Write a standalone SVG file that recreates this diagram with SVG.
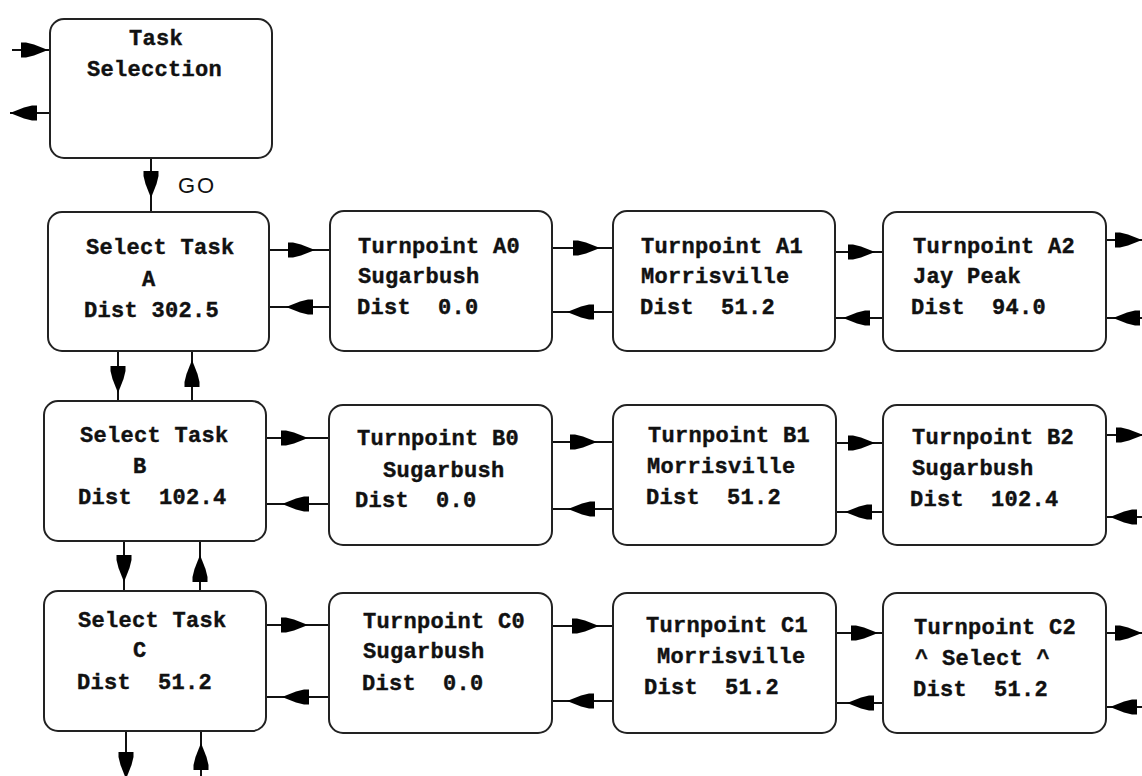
<svg xmlns="http://www.w3.org/2000/svg" xmlns:xlink="http://www.w3.org/1999/xlink" width="1142" height="776" viewBox="0 0 1142 776">
<style>
.box{fill:#fff;stroke:#222;stroke-width:2}
.t{font-family:"Liberation Mono",monospace;font-weight:bold;font-size:22px;letter-spacing:0.3px;fill:#111;stroke:#111;stroke-width:0.4}
.go{font-family:"Liberation Sans",Arial,sans-serif;font-size:22px;letter-spacing:2px;fill:#111}
.ln{stroke:#111;stroke-width:2;fill:none}
.ah{fill:#000}
</style>
<defs>
<path id="ah" class="ah" d="M0,0 L-14,-5.5 L-22,-7.5 L-27,-7.5 L-27,7.5 L-22,7.5 L-14,5.5 Z"/>
</defs>
<rect width="1142" height="776" fill="#fff"/>
<g id="connectors">
<line class="ln" x1="12" y1="50" x2="50" y2="50"/><use href="#ah" transform="translate(48,50)"/>
<line class="ln" x1="10" y1="113" x2="50" y2="113"/><use href="#ah" transform="translate(10,113) rotate(180)"/>
<line class="ln" x1="151" y1="158" x2="151" y2="212"/><use href="#ah" transform="translate(151,198) rotate(90)"/>
<line class="ln" x1="118" y1="351" x2="118" y2="401"/><use href="#ah" transform="translate(118,393) rotate(90)"/>
<line class="ln" x1="192" y1="351" x2="192" y2="401"/><use href="#ah" transform="translate(192,360) rotate(-90)"/>
<line class="ln" x1="124" y1="541" x2="124" y2="591"/><use href="#ah" transform="translate(124,582) rotate(90)"/>
<line class="ln" x1="200" y1="541" x2="200" y2="591"/><use href="#ah" transform="translate(200,555) rotate(-90)"/>
<line class="ln" x1="126" y1="731" x2="126" y2="776"/><use href="#ah" transform="translate(126,779) rotate(90)"/>
<line class="ln" x1="201" y1="731" x2="201" y2="776"/><use href="#ah" transform="translate(201,743) rotate(-90)"/>
<!-- row A -->
<line class="ln" x1="269" y1="250" x2="330" y2="250"/><use href="#ah" transform="translate(315,250)"/>
<line class="ln" x1="269" y1="307" x2="330" y2="307"/><use href="#ah" transform="translate(286,307) rotate(180)"/>
<line class="ln" x1="552" y1="248" x2="613" y2="248"/><use href="#ah" transform="translate(600,248)"/>
<line class="ln" x1="552" y1="312" x2="613" y2="312"/><use href="#ah" transform="translate(567,312) rotate(180)"/>
<line class="ln" x1="835" y1="252" x2="883" y2="252"/><use href="#ah" transform="translate(875,252)"/>
<line class="ln" x1="835" y1="318" x2="883" y2="318"/><use href="#ah" transform="translate(843,318) rotate(180)"/>
<line class="ln" x1="1106" y1="240" x2="1142" y2="240"/><use href="#ah" transform="translate(1142,240)"/>
<line class="ln" x1="1106" y1="318" x2="1142" y2="318"/><use href="#ah" transform="translate(1113,318) rotate(180)"/>
<!-- row B -->
<line class="ln" x1="266" y1="438" x2="329" y2="438"/><use href="#ah" transform="translate(308,438)"/>
<line class="ln" x1="266" y1="504" x2="329" y2="504"/><use href="#ah" transform="translate(282,504) rotate(180)"/>
<line class="ln" x1="552" y1="442" x2="613" y2="442"/><use href="#ah" transform="translate(597,442)"/>
<line class="ln" x1="552" y1="509" x2="613" y2="509"/><use href="#ah" transform="translate(568,509) rotate(180)"/>
<line class="ln" x1="836" y1="443" x2="883" y2="443"/><use href="#ah" transform="translate(875,443)"/>
<line class="ln" x1="836" y1="512" x2="883" y2="512"/><use href="#ah" transform="translate(845,512) rotate(180)"/>
<line class="ln" x1="1106" y1="435" x2="1142" y2="435"/><use href="#ah" transform="translate(1143,435)"/>
<line class="ln" x1="1106" y1="517" x2="1142" y2="517"/><use href="#ah" transform="translate(1110,517) rotate(180)"/>
<!-- row C -->
<line class="ln" x1="267" y1="625" x2="329" y2="625"/><use href="#ah" transform="translate(308,625)"/>
<line class="ln" x1="266" y1="697" x2="329" y2="697"/><use href="#ah" transform="translate(282,697) rotate(180)"/>
<line class="ln" x1="552" y1="626" x2="613" y2="626"/><use href="#ah" transform="translate(599,626)"/>
<line class="ln" x1="552" y1="701" x2="613" y2="701"/><use href="#ah" transform="translate(567,701) rotate(180)"/>
<line class="ln" x1="836" y1="633" x2="883" y2="633"/><use href="#ah" transform="translate(878,633)"/>
<line class="ln" x1="836" y1="703" x2="883" y2="703"/><use href="#ah" transform="translate(847,703) rotate(180)"/>
<line class="ln" x1="1106" y1="633" x2="1142" y2="633"/><use href="#ah" transform="translate(1142,633)"/>
<line class="ln" x1="1106" y1="707" x2="1142" y2="707"/><use href="#ah" transform="translate(1110,707) rotate(180)"/>
<text class="go" x="178" y="193">GO</text>
</g>
<g id="task-selection">
<rect class="box" x="50" y="19" width="222" height="139" rx="14"/>
<text class="t" x="129" y="45">Task</text>
<text class="t" x="87" y="76">Selecction</text>
</g>
<g id="select-a">
<rect class="box" x="48" y="212" width="221" height="139" rx="14"/>
<text class="t" x="86" y="254">Select Task</text>
<text class="t" x="142" y="286">A</text>
<text class="t" x="84" y="317">Dist 302.5</text>
</g>
<g id="select-b">
<rect class="box" x="44" y="401" width="222" height="140" rx="14"/>
<text class="t" x="80" y="442">Select Task</text>
<text class="t" x="133" y="473">B</text>
<text class="t" x="78" y="504" xml:space="preserve">Dist  102.4</text>
</g>
<g id="select-c">
<rect class="box" x="44" y="591" width="222" height="140" rx="14"/>
<text class="t" x="78" y="627">Select Task</text>
<text class="t" x="133" y="657">C</text>
<text class="t" x="77" y="689" xml:space="preserve">Dist  51.2</text>
</g>
<g id="tp-a0">
<rect class="box" x="330" y="211" width="222" height="140" rx="14"/>
<text class="t" x="358" y="253">Turnpoint A0</text>
<text class="t" x="358" y="283">Sugarbush</text>
<text class="t" x="357" y="314" xml:space="preserve">Dist  0.0</text>
</g>
<g id="tp-a1">
<rect class="box" x="613" y="211" width="222" height="140" rx="14"/>
<text class="t" x="641" y="253">Turnpoint A1</text>
<text class="t" x="641" y="283">Morrisville</text>
<text class="t" x="640" y="314" xml:space="preserve">Dist  51.2</text>
</g>
<g id="tp-a2">
<rect class="box" x="883" y="212" width="223" height="139" rx="14"/>
<text class="t" x="913" y="253">Turnpoint A2</text>
<text class="t" x="913" y="283">Jay Peak</text>
<text class="t" x="911" y="314" xml:space="preserve">Dist  94.0</text>
</g>
<g id="tp-b0">
<rect class="box" x="329" y="405" width="223" height="140" rx="14"/>
<text class="t" x="357" y="445">Turnpoint B0</text>
<text class="t" x="383" y="477">Sugarbush</text>
<text class="t" x="355" y="507" xml:space="preserve">Dist  0.0</text>
</g>
<g id="tp-b1">
<rect class="box" x="613" y="405" width="223" height="140" rx="14"/>
<text class="t" x="648" y="442">Turnpoint B1</text>
<text class="t" x="647" y="473">Morrisville</text>
<text class="t" x="646" y="504" xml:space="preserve">Dist  51.2</text>
</g>
<g id="tp-b2">
<rect class="box" x="883" y="405" width="223" height="140" rx="14"/>
<text class="t" x="912" y="444">Turnpoint B2</text>
<text class="t" x="912" y="475">Sugarbush</text>
<text class="t" x="910" y="506" xml:space="preserve">Dist  102.4</text>
</g>
<g id="tp-c0">
<rect class="box" x="329" y="593" width="223" height="140" rx="14"/>
<text class="t" x="363" y="628">Turnpoint C0</text>
<text class="t" x="363" y="658">Sugarbush</text>
<text class="t" x="362" y="690" xml:space="preserve">Dist  0.0</text>
</g>
<g id="tp-c1">
<rect class="box" x="613" y="593" width="223" height="140" rx="14"/>
<text class="t" x="646" y="632">Turnpoint C1</text>
<text class="t" x="657" y="663">Morrisville</text>
<text class="t" x="644" y="694" xml:space="preserve">Dist  51.2</text>
</g>
<g id="tp-c2">
<rect class="box" x="883" y="593" width="223" height="140" rx="14"/>
<text class="t" x="914" y="634">Turnpoint C2</text>
<text class="t" x="915" y="665">^ Select ^</text>
<text class="t" x="913" y="696" xml:space="preserve">Dist  51.2</text>
</g>
</svg>
